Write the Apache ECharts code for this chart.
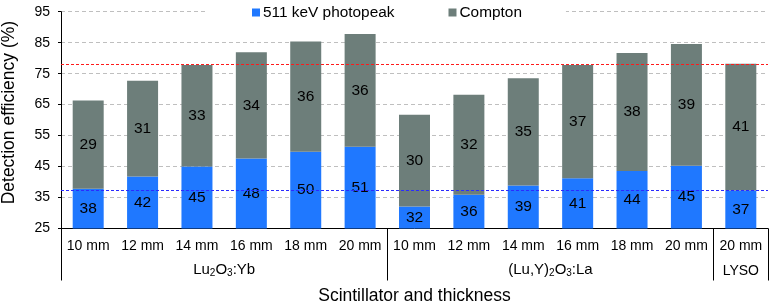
<!DOCTYPE html>
<html>
<head>
<meta charset="utf-8">
<script src="https://cdn.jsdelivr.net/npm/echarts@6/dist/echarts.min.js"></script>
<style>
html, body { margin: 0; padding: 0; background: #fff; }
#chart { width: 771px; height: 302px; }
</style>
</head>
<body>
<div id="chart"></div>
<script>
const thickness = ['10 mm', '12 mm', '14 mm', '16 mm', '18 mm', '20 mm',
    '10 mm', '12 mm', '14 mm', '16 mm', '18 mm', '20 mm', '20 mm'];
const photopeak = [37.8, 41.8, 45.0, 47.6, 49.8, 51.4, 32.1, 35.9, 38.9, 41.2, 43.6, 45.3, 37.3];
const compton = [28.5, 30.9, 32.8, 34.3, 35.6, 36.4, 29.6, 32.3, 34.6, 36.6, 38.1, 39.3, 40.9];
// scintillator groups (rich text for subscripts) and how many bars each one has
const groupNames = ['{m|Lu}{s|2}{m|O}{s|3}{m|:Yb}', '{m|(Lu,Y)}{s|2}{m|O}{s|3}{m|:La}', '{l|LYSO}'];
const groupSizes = [6, 6, 1];
// LYSO reference levels: total and photopeak
const refTotal = 78;
const refPhotopeak = 37.3;

const font = 'Liberation Sans, Arial, sans-serif';

// group start indexes and centres
const groupStarts = [];
const groupCentres = {};
let acc = 0;
groupSizes.forEach((n, i) => {
    groupStarts.push(acc);
    groupCentres[acc + n / 2] = groupNames[i];
    acc += n;
});

const chart = echarts.init(document.getElementById('chart'));

chart.setOption({
    animation: false,
    textStyle: { fontFamily: font, color: '#000' },
    legend: {
        left: 205,
        top: 2,
        padding: [3, 44, 3, 47],
        backgroundColor: '#fff',
        icon: 'rect',
        itemWidth: 8,
        itemHeight: 8,
        itemGap: 54,
        textStyle: { fontSize: 15.4, color: '#000', fontFamily: font, padding: [0, 0, 0, -2] },
        data: ['511 keV photopeak', 'Compton']
    },
    grid: {
        left: 61,
        right: 3,
        top: 11.7,
        bottom: 73.5,
        containLabel: false,
        outerBoundsMode: 'none'
    },
    xAxis: [
        {
            type: 'category',
            data: thickness,
            name: 'Scintillator and thickness',
            nameLocation: 'middle',
            nameGap: 59,
            nameTextStyle: { fontSize: 17.5, color: '#000', fontFamily: font },
            axisLine: { lineStyle: { color: '#000', width: 1 } },
            axisTick: {
                show: true,
                length: 52,
                interval: (i) => groupStarts.indexOf(i) >= 0,
                lineStyle: { color: '#000', width: 1 }
            },
            axisLabel: { interval: 0, margin: 11, fontSize: 14, color: '#000', fontFamily: font },
            splitLine: { show: false }
        },
        {
            type: 'value',
            position: 'bottom',
            min: 0,
            max: thickness.length,
            interval: 0.5,
            axisLine: { show: false },
            axisTick: { show: false },
            splitLine: { show: false },
            axisLabel: {
                margin: 33,
                color: '#000',
                fontFamily: font,
                formatter: (v) => {
                    for (const k in groupCentres) {
                        if (Math.abs(v - k) < 1e-6) return groupCentres[k];
                    }
                    return '';
                },
                rich: {
                    m: { fontSize: 15, lineHeight: 17, fontFamily: font, color: '#000' },
                    s: { fontSize: 10, lineHeight: 1, verticalAlign: 'bottom', fontFamily: font, color: '#000' },
                    l: { fontSize: 14, lineHeight: 17, fontFamily: font, color: '#000', padding: [2, 0, 0, 0] }
                }
            }
        }
    ],
    yAxis: {
        type: 'value',
        min: 25,
        max: 95,
        interval: 10,
        startValue: 25,
        name: 'Detection efficiency (%)',
        nameLocation: 'middle',
        nameGap: 43,
        nameTextStyle: { fontSize: 17.5, color: '#000', fontFamily: font, padding: [0, 0, 0, 15] },
        axisLine: { show: true, lineStyle: { color: '#000', width: 1 } },
        axisTick: { show: true, length: 3, lineStyle: { color: '#000' } },
        axisLabel: { margin: 11, fontSize: 14, color: '#000', fontFamily: font },
        splitLine: { show: true, lineStyle: { color: '#bfbfbf', type: [4, 3], width: 1 } }
    },
    series: [
        {
            name: '511 keV photopeak',
            type: 'bar',
            stack: 'eff',
            barWidth: '57%',
            data: photopeak,
            itemStyle: { color: '#1f78ff' },
            label: {
                show: true,
                position: 'inside',
                fontSize: 15.5,
                color: '#000',
                fontFamily: font,
                formatter: (p) => Math.round(p.value)
            },
            markLine: {
                silent: true,
                symbol: 'none',
                label: { show: false },
                lineStyle: { color: '#2a2aff', type: [3, 2], width: 1, opacity: 1 },
                emphasis: { disabled: true },
                z: 10,
                data: [{ yAxis: refPhotopeak }]
            }
        },
        {
            name: 'Compton',
            type: 'bar',
            stack: 'eff',
            barWidth: '57%',
            data: compton,
            itemStyle: { color: '#6d7e7a' },
            label: {
                show: true,
                position: 'inside',
                fontSize: 15.5,
                color: '#000',
                fontFamily: font,
                formatter: (p) => Math.round(p.value)
            },
            markLine: {
                silent: true,
                symbol: 'none',
                label: { show: false },
                lineStyle: { color: '#ff1a1a', type: [3, 2], width: 1, opacity: 1 },
                emphasis: { disabled: true },
                z: 10,
                data: [{ yAxis: refTotal }]
            }
        }
    ]
});
</script>
</body>
</html>
